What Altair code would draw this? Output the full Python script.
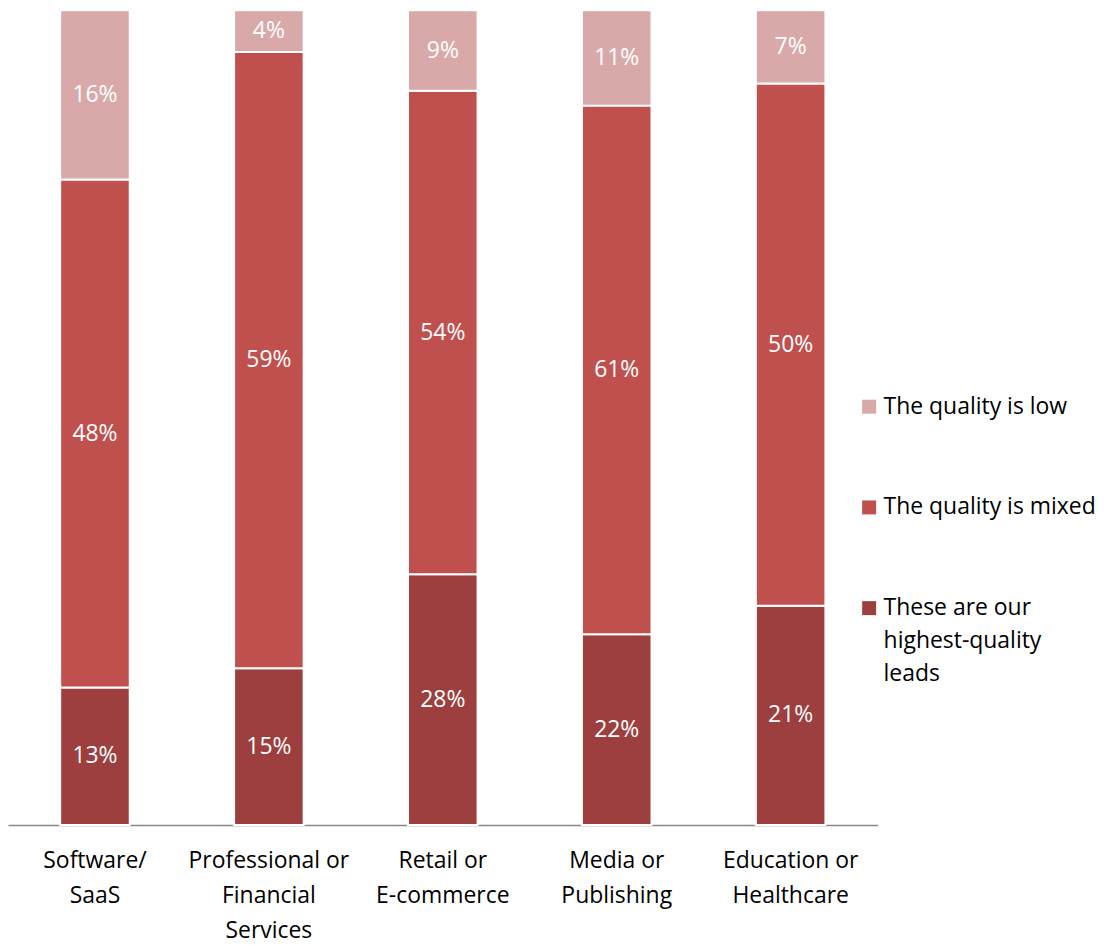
import altair as alt
import pandas as pd

categories = ["Software/|SaaS", "Professional or|Financial|Services", "Retail or|E-commerce",
              "Media or|Publishing", "Education or|Healthcare"]
series = ["These are our highest-quality leads", "The quality is mixed", "The quality is low"]
highest = [13, 15, 28, 22, 21]
mixed = [48, 59, 54, 61, 50]
low = [16, 4, 9, 11, 7]
colors = ["#9C3F3E", "#C0504D", "#D9A9A9"]

rows = []
for i, c in enumerate(categories):
    for j, (s, vals) in enumerate(zip(series, [highest, mixed, low])):
        rows.append({"cat": c, "series": s, "order": j, "value": vals[i],
                     "label": f"{vals[i]}%"})
df = pd.DataFrame(rows)

legend_order = [series[2], series[1], series[0]]
legend_colors = [colors[2], colors[1], colors[0]]

base = alt.Chart(df).transform_stack(
    stack="value", groupby=["cat"], as_=["y0", "y1"], offset="normalize",
    sort=[alt.SortField("order", order="ascending")]
).transform_calculate(mid="(datum.y0 + datum.y1) / 2")

xenc = alt.X("cat:N", sort=categories, title=None,
             scale=alt.Scale(paddingInner=0.6, paddingOuter=0.3),
             axis=alt.Axis(labelExpr="split(datum.label, '|')", labelAngle=0,
                           labelFont="Open Sans", labelFontSize=23, labelColor="#000000",
                           labelLineHeight=35, labelPadding=25, ticks=False,
                           domainColor="#888888", domainWidth=1.5, labelLimit=300))

legend_label_expr = (
    "datum.label == 'These are our highest-quality leads' ? "
    "['These are our', 'highest-quality', 'leads'] : [datum.label, '', '']"
)

bars = base.mark_bar(stroke="white", strokeWidth=2).encode(
    x=xenc,
    y=alt.Y("y0:Q", axis=None, scale=alt.Scale(domain=[0, 1], nice=False)),
    y2="y1:Q",
    color=alt.Color("series:N", scale=alt.Scale(domain=legend_order, range=legend_colors),
                    legend=alt.Legend(
                        title=None, orient="none", legendX=852, legendY=386,
                        symbolType="square", symbolSize=196, symbolStrokeWidth=0,
                        labelFont="Open Sans", labelFontSize=23, labelColor="#000000",
                        labelOffset=3, labelLimit=400,
                        labelBaseline="middle", rowPadding=11, padding=0,
                        labelExpr=legend_label_expr)),
)

texts = base.mark_text(color="white", font="Open Sans", fontSize=23, baseline="middle").encode(
    x=alt.X("cat:N", sort=categories),
    y=alt.Y("mid:Q"),
    text="label:N",
)

chart = alt.layer(bars, texts).properties(
    width=872, height=817, padding=0
).configure(
    style={"guide-label": {"lineHeight": 33}}
).configure_view(stroke=None)

chart.save("out.html", embed_options={"renderer": "svg", "actions": False})
